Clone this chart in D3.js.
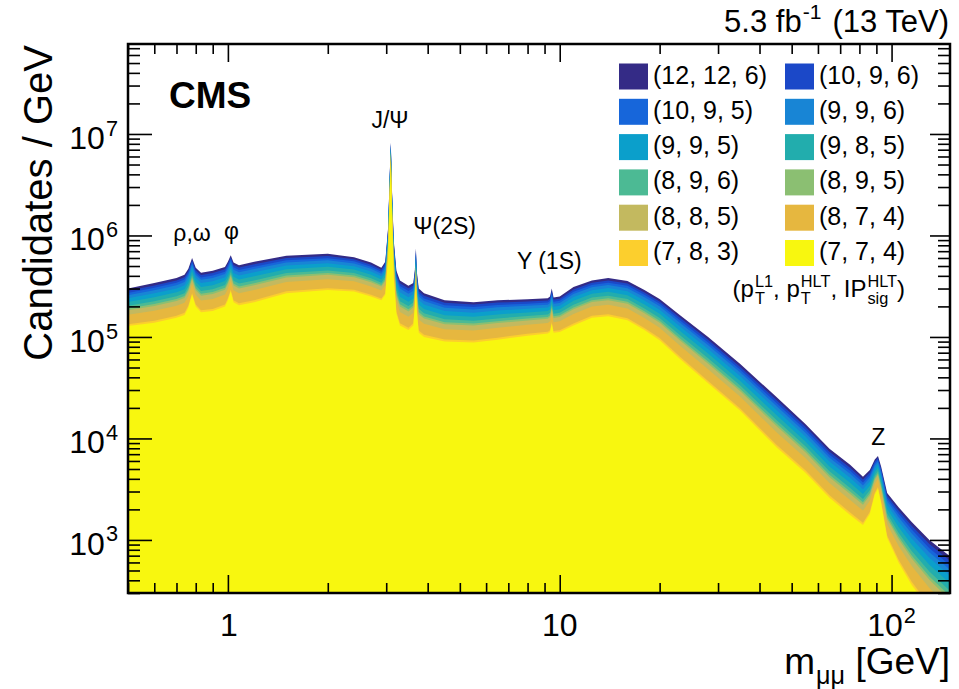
<!DOCTYPE html>
<html>
<head>
<meta charset="utf-8">
<script src="https://cdn.jsdelivr.net/npm/d3@7"></script>
<style>
  body { margin: 0; background: #fff; }
  svg { display: block; font-family: "Liberation Sans", Arial, Helvetica, sans-serif; }
  text { white-space: pre; }
</style>
</head>
<body>
<svg id="chart" width="959" height="689"></svg>
<script>
// dimuon invariant mass points (GeV)
const massPoints = [
  0.5, 0.6, 0.7, 0.74, 0.76, 0.78, 0.8, 0.83, 0.9, 0.98, 1.0, 1.02, 1.04, 1.08, 1.2, 1.5, 2.0, 2.4, 2.7, 2.9,
  2.98, 3.04, 3.07, 3.097, 3.12, 3.16, 3.22, 3.3, 3.5, 3.62, 3.66, 3.686, 3.71, 3.76, 3.9, 4.5, 5.5, 6.5, 8.0,
  9.2, 9.35, 9.46, 9.58, 10, 11, 12.5, 14, 16, 18, 20, 23, 28, 35, 45, 55, 65, 75, 82, 86, 89, 91, 93, 97,
  105, 115, 130, 150
];
// top of the stack, (12, 12, 6) envelope, candidates / GeV
const totalCounts = [
  3.0e5, 3.4e5, 3.8e5, 4.1e5, 4.7e5, 6.0e5, 4.8e5, 4.3e5, 4.5e5, 4.9e5, 5.5e5, 6.4e5, 5.4e5, 5.1e5, 5.5e5, 6.3e5, 6.6e5, 6.1e5, 5.4e5, 4.8e5,
  5.5e5, 1.2e6, 3.5e6, 8.3e6, 3.0e6, 9.0e5, 4.5e5, 3.6e5, 3.2e5, 3.4e5, 4.6e5, 7.5e5, 4.4e5, 3.0e5, 2.7e5, 2.3e5, 2.2e5, 2.3e5, 2.35e5,
  2.4e5, 2.5e5, 3.0e5, 2.45e5, 2.5e5, 3.1e5, 3.6e5, 3.8e5, 3.55e5, 2.9e5, 2.37e5, 1.65e5, 1.0e5, 5.4e4, 2.56e4, 1.39e4, 7.9e3, 5.5e3, 4.2e3, 4.9e3, 6.2e3, 6.7e3, 5.3e3, 2.9e3,
  2.1e3, 1.5e3, 1.0e3, 690
];
// bottom layer, (7, 7, 4)
const yellowCounts = [
  1.28e5, 1.38e5, 1.55e5, 1.65e5, 1.95e5, 2.6e5, 2.0e5, 1.75e5, 1.8e5, 2.0e5, 2.3e5, 2.8e5, 2.2e5, 2.05e5, 2.2e5, 2.7e5, 2.9e5, 2.8e5, 2.5e5, 2.3e5,
  2.6e5, 6.0e5, 2.2e6, 5.5e6, 1.8e6, 4.0e5, 1.7e5, 1.3e5, 1.17e5, 1.3e5, 2.0e5, 3.5e5, 1.8e5, 1.1e5, 1.0e5, 9.0e4, 8.8e4, 9.4e4, 1.03e5,
  1.08e5, 1.12e5, 1.35e5, 1.1e5, 1.12e5, 1.3e5, 1.55e5, 1.6e5, 1.46e5, 1.17e5, 9.3e4, 6.1e4, 3.5e4, 1.87e4, 8.2e3, 4.6e3, 2.6e3, 1.76e3, 1.4e3, 1.8e3, 2.8e3, 3.2e3, 2.3e3, 1.05e3,
  600, 360, 210, 125
];

// triggers (pT L1, pT HLT, IPsig HLT), legend order = top of stack first
const triggerLabels = [
  '(12, 12, 6)', '(10, 9, 6)', '(10, 9, 5)', '(9, 9, 6)', '(9, 9, 5)', '(9, 8, 5)',
  '(8, 9, 6)', '(8, 9, 5)', '(8, 8, 5)', '(8, 7, 4)', '(7, 8, 3)', '(7, 7, 4)'
];
const triggerColors = [
  '#342b86', '#1b48c8', '#1766da', '#1885d5', '#0b9fcb', '#22adad',
  '#4cba94', '#8bbf72', '#c3b95f', '#e6b73f', '#fccf2d', '#f8f70f'
];
// thickness of each band (all but the bottom one) as a share of the log gap bottom -> top
const bandShare = [0.06, 0.06, 0.06, 0.08, 0.10, 0.10, 0.07, 0.05, 0.12, 0.25, 0.05];

// resonance labels
const peakLabels = [
  { text: 'ρ,ω', m: 0.78, y: 241 },
  { text: 'φ', m: 1.025, y: 239 },
  { text: 'J/Ψ', m: 3.08, y: 128 },
  { text: 'Ψ(2S)', m: 4.5, y: 234 },
  { text: 'Υ (1S)', m: 9.3, y: 269 },
  { text: 'Z', m: 91.2, y: 445 }
];

const svg = d3.select('#chart');
const plotL = 128, plotR = 950, plotT = 44, plotB = 593;

const x = d3.scaleLog().domain([0.5, 150]).range([plotL, plotR]);
const y = d3.scaleLog().domain([300, 7.7e7]).range([plotB, plotT]);

// build stacked boundaries (log-space shares between yellow and total)
const nLayers = triggerLabels.length;
const layers = d3.range(nLayers).map(k => {
  const cum = d3.sum(bandShare.slice(k)); // share from bottom up to the top of layer k
  return massPoints.map((m, i) => {
    const lt = Math.log10(totalCounts[i]), ly = Math.log10(yellowCounts[i]);
    return { m, v: Math.pow(10, ly + cum * (lt - ly)) };
  });
});

svg.append('clipPath').attr('id', 'clip')
  .append('rect').attr('x', plotL).attr('y', plotT).attr('width', plotR - plotL).attr('height', plotB - plotT);

const area = d3.area()
  .x(d => x(d.m))
  .y0(plotB)
  .y1(d => y(Math.max(d.v, 1)));

// draw the top layer first, each next one over it
svg.append('g').attr('clip-path', 'url(#clip)')
  .selectAll('path').data(layers).enter().append('path')
  .attr('d', area)
  .attr('fill', (d, k) => triggerColors[k]);

// ticks
const majorY = [1e3, 1e4, 1e5, 1e6, 1e7];
const minorY = [];
[100, 1e3, 1e4, 1e5, 1e6, 1e7].forEach(p => d3.range(2, 10).forEach(j => {
  const v = p * j; if (v >= 300 && v <= 7.7e7) minorY.push(v);
}));
const majorX = [1, 10, 100];
const minorX = [];
[0.1, 1, 10, 100].forEach(p => d3.range(2, 10).forEach(j => {
  const v = p * j; if (v >= 0.5 && v <= 150) minorX.push(v);
}));

function tickAxis(axis, vals, size, tx, ty) {
  const g = svg.append('g').attr('transform', `translate(${tx},${ty})`)
    .call(axis.tickValues(vals).tickSize(-size).tickFormat(''));
  g.select('.domain').remove();
  g.selectAll('line').attr('stroke', '#000').attr('stroke-width', 1.6);
}
tickAxis(d3.axisLeft(y), majorY, 24, plotL, 0);
tickAxis(d3.axisLeft(y), minorY, 12, plotL, 0);
tickAxis(d3.axisRight(y), majorY, 20, plotR, 0);
tickAxis(d3.axisRight(y), minorY, 12, plotR, 0);
tickAxis(d3.axisBottom(x), majorX, 18, 0, plotB);
tickAxis(d3.axisBottom(x), minorX, 10, 0, plotB);
tickAxis(d3.axisTop(x), majorX, 18, 0, plotT);
tickAxis(d3.axisTop(x), minorX, 10, 0, plotT);

// frame
svg.append('rect')
  .attr('x', plotL).attr('y', plotT).attr('width', plotR - plotL).attr('height', plotB - plotT)
  .attr('fill', 'none').attr('stroke', '#000').attr('stroke-width', 2.5);

// text with super/subscripts laid out piece by piece
function richText(x0, y0, parts, size, anchor) {
  const g = svg.append('g');
  let cx = 0;
  parts.forEach(p => {
    let w = 0;
    if (p.t) {
      const t = g.append('text').attr('x', cx).attr('y', 0).attr('font-size', size).text(p.t);
      w = t.node().getComputedTextLength();
    }
    if (p.sup || p.sub) {
      const s = size * 0.68;
      let wu = 0, wd = 0;
      if (p.sup) {
        const t = g.append('text').attr('x', cx + 1).attr('y', -size * 0.42).attr('font-size', s).text(p.sup);
        wu = t.node().getComputedTextLength() + 1;
      }
      if (p.sub) {
        const t = g.append('text').attr('x', cx + 1).attr('y', size * 0.28).attr('font-size', s).text(p.sub);
        wd = t.node().getComputedTextLength() + 1;
      }
      w = Math.max(wu, wd);
    }
    if (p.gap) w = p.gap;
    cx += w;
  });
  const shift = anchor === 'end' ? -cx : anchor === 'middle' ? -cx / 2 : 0;
  g.attr('transform', `translate(${x0 + shift},${y0})`).attr('fill', '#000');
  return g;
}

// tick labels
majorY.forEach(v => {
  richText(118, y(v) + 15, [{ t: '10' }, { sup: String(Math.round(Math.log10(v))) }], 32, 'end');
});
richText(x(1) + 1, 636, [{ t: '1' }], 32, 'middle');
richText(x(10), 636, [{ t: '10' }], 32, 'middle');
richText(x(100), 636, [{ t: '10' }, { sup: '2' }], 32, 'middle');

// axis titles
richText(950, 674, [{ t: 'm' }, { sub: 'μμ' }, { t: ' [GeV]' }], 37, 'end');
svg.append('text')
  .attr('transform', 'translate(52,45) rotate(-90)')
  .attr('text-anchor', 'end')
  .attr('font-size', 40)
  .text('Candidates / GeV');

// header
richText(949, 32, [{ t: '5.3 fb' }, { sup: '-1' }, { gap: 11 }, { t: '(13 TeV)' }], 31, 'end');
svg.append('text')
  .attr('x', 169).attr('y', 108)
  .attr('font-size', 37).attr('font-weight', 'bold')
  .text('CMS');

// resonance labels
svg.append('g').selectAll('text').data(peakLabels).enter().append('text')
  .attr('x', d => x(d.m)).attr('y', d => d.y)
  .attr('text-anchor', 'middle')
  .attr('font-size', 23)
  .text(d => d.text);

// legend
const legend = svg.append('g');
triggerLabels.forEach((lab, i) => {
  const col = i % 2, row = Math.floor(i / 2);
  const bx = col === 0 ? 619 : 785;
  const cy = 76.5 + row * 35.3;
  legend.append('rect')
    .attr('x', bx).attr('y', cy - 13).attr('width', 29).attr('height', 26)
    .attr('fill', triggerColors[i]);
  legend.append('text')
    .attr('x', bx + 34).attr('y', cy + 7)
    .attr('font-size', 25)
    .text(lab);
});
richText(905, 297, [
  { t: '(p' }, { sup: 'L1', sub: 'T' }, { t: ', p' }, { sup: 'HLT', sub: 'T' },
  { t: ', IP' }, { sup: 'HLT', sub: 'sig' }, { t: ')' }
], 24, 'end');
</script>
</body>
</html>
